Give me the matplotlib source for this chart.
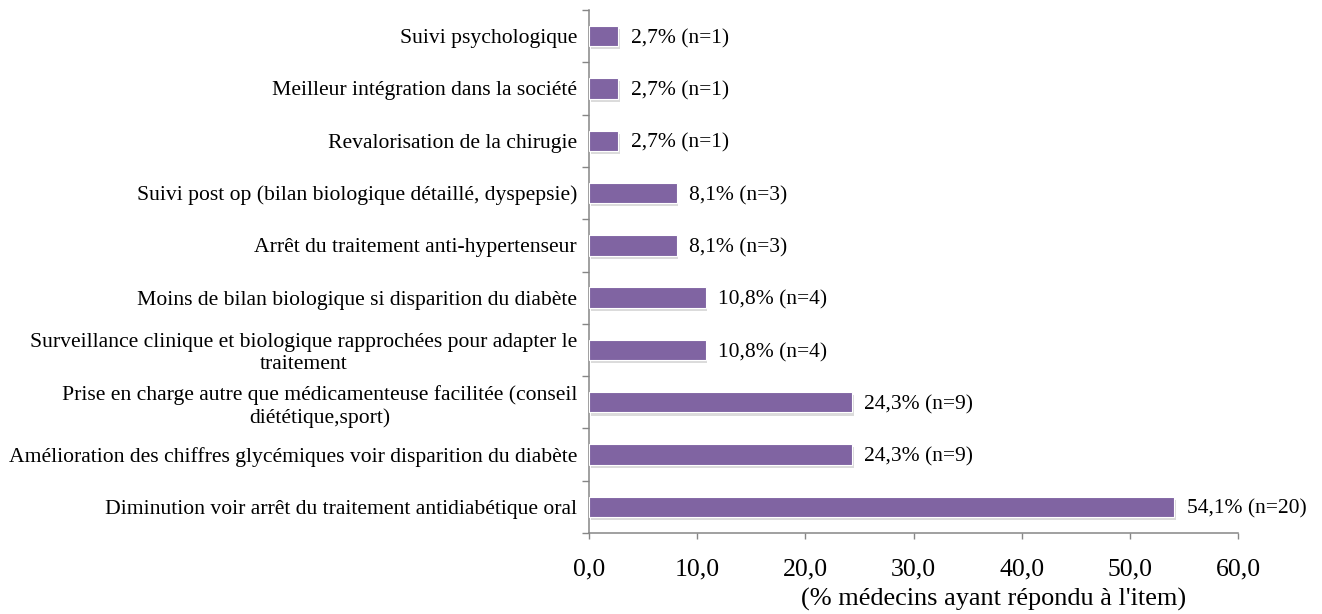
import matplotlib
matplotlib.use("Agg")
import matplotlib.pyplot as plt
import matplotlib.patheffects as pe
from matplotlib.ticker import FixedLocator, FuncFormatter

plt.rcParams['font.family'] = ['Liberation Serif', 'DejaVu Serif']

# Data (bottom to top)
categories = [
    "Diminution voir arrêt du traitement antidiabétique oral",
    "Amélioration des chiffres glycémiques voir disparition du diabète",
    "Prise en charge autre que médicamenteuse facilitée (conseil\ndiététique,sport)",
    "Surveillance clinique et biologique rapprochées pour adapter le\ntraitement",
    "Moins de bilan biologique si disparition du diabète",
    "Arrêt du traitement anti-hypertenseur",
    "Suivi post op (bilan biologique détaillé, dyspepsie)",
    "Revalorisation de la chirugie",
    "Meilleur intégration dans la société",
    "Suivi psychologique",
]
percent = [54.1, 24.3, 24.3, 10.8, 10.8, 8.1, 8.1, 2.7, 2.7, 2.7]
counts = [20, 9, 9, 4, 4, 3, 3, 1, 1, 1]
x_ticks = [0, 10, 20, 30, 40, 50, 60]
x_label = "(% médecins ayant répondu à l'item)"

W, H = 1322, 614
fig = plt.figure(figsize=(W / 100, H / 100), dpi=100)
ax = fig.add_axes([589 / W, 1 - 533 / H, (1238 - 589) / W, (533 - 10) / H])

ypos = list(range(len(categories)))
bars = ax.barh(ypos, percent, height=0.39, color="#8064A2",
               edgecolor="white", linewidth=0.8, zorder=3)
for b in bars:
    b.set_path_effects([pe.SimplePatchShadow(offset=(1.2, -2.2), shadow_rgbFace="#888888", alpha=0.3),
                        pe.Normal()])

for y, v, n in zip(ypos, percent, counts):
    ax.annotate(f"{v:.1f}".replace(".", ",") + f"% (n={n})", xy=(v, y),
                xytext=(9, 0), textcoords="offset points",
                ha="left", va="center_baseline", fontsize=15.5, color="black")

ax.set_xlim(0, 60)
ax.set_ylim(-0.5, len(categories) - 0.5)
ax.xaxis.set_major_locator(FixedLocator(x_ticks))
ax.xaxis.set_major_formatter(FuncFormatter(lambda v, p: f"{v:.1f}".replace(".", ",")))

ax.set_yticks(ypos)
ax.set_yticklabels(categories, fontsize=15.6, multialignment="center", linespacing=1.2)
ax.set_yticks([i - 0.5 for i in range(len(categories) + 1)], minor=True)
ax.tick_params(axis="y", which="major", length=0, pad=8.6)
ax.tick_params(axis="y", which="minor", length=5, width=1, color="#868686", direction="out")
ax.tick_params(axis="x", which="major", length=4, width=1, color="#868686",
               direction="out", labelsize=18.5, pad=14)

for side in ["top", "right"]:
    ax.spines[side].set_visible(False)
for side in ["left", "bottom"]:
    ax.spines[side].set_color("#868686")
    ax.spines[side].set_linewidth(1.1)

fig.text(994 / W, 1 - 606 / H, x_label, ha="center", va="baseline", fontsize=18.9)

fig.savefig("out.png", dpi=100, facecolor="white")
